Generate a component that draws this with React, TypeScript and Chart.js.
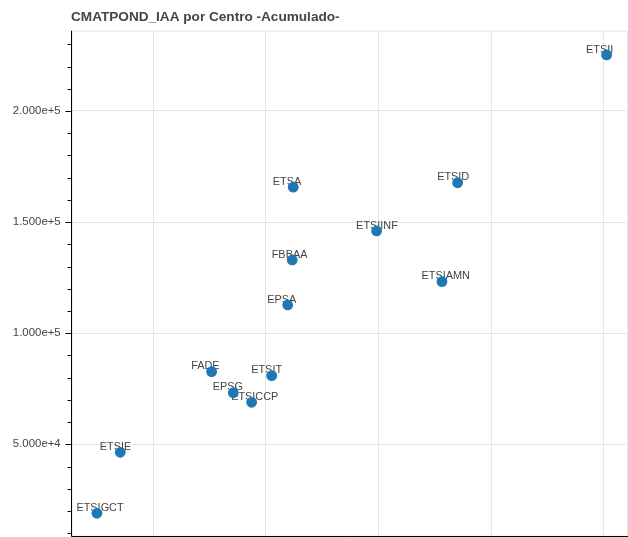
import React, { useEffect, useRef } from "react";
import { Chart, registerables } from "chart.js";

Chart.register(...registerables);

const TITLE = "CMATPOND_IAA por Centro -Acumulado-";
const CENTERS = ["ETSII", "ETSID", "ETSA", "ETSIINF", "FBBAA", "ETSIAMN", "EPSA", "FADE", "ETSIT", "EPSG", "ETSICCP", "ETSIE", "ETSIGCT"];
const X_VALUES = [5023, 3701, 2242, 2982, 2233, 3562, 2193, 1518, 2051, 1710, 1873, 707, 500];
const Y_VALUES = [225200, 167700, 165700, 146000, 132950, 123200, 112700, 82700, 80900, 73200, 68900, 46400, 18950];
const X_MAJOR_TICKS = [1000, 2000, 3000, 4000, 5000];
const X_MINOR_STEP = 200;
const Y_MAJOR_TICKS = [50000, 100000, 150000, 200000];
const Y_MINOR_STEP = 10000;
const X_MIN = 276;
const X_MAX = 5213;
const Y_MIN = 8865;
const Y_MAX = 236115;

const FONT = '"Liberation Sans", Helvetica, Arial, sans-serif';

function fmtSci(v: number): string {
  const e = Math.floor(Math.log10(Math.abs(v)));
  const m = v / Math.pow(10, e);
  return m.toFixed(3) + "e+" + e;
}

export default function App() {
  const ref = useRef<HTMLCanvasElement | null>(null);

  useEffect(() => {
    if (!ref.current) return;
    const decor = {
      id: "decor",
      beforeDatasetsDraw(chart: any) {
        const { ctx, chartArea } = chart;
        const { left, top, right, bottom } = chartArea;
        ctx.save();
        ctx.strokeStyle = "#e5e5e5";
        ctx.lineWidth = 1;
        ctx.strokeRect(left + 0.5, top + 0.5, right - left - 1, bottom - top);
        const xs = chart.scales.x;
        const ys = chart.scales.y;
        ctx.fillStyle = "#444444";
        ctx.font = `10.9px ${FONT}`;
        ctx.textAlign = "left";
        ctx.textBaseline = "bottom";
        CENTERS.forEach((name, i) => {
          const px = xs.getPixelForValue(X_VALUES[i]);
          const py = ys.getPixelForValue(Y_VALUES[i]);
          ctx.fillText(name, px - 20.5, py);
        });
        ctx.restore();
      },
      afterDraw(chart: any) {
        const { ctx, chartArea } = chart;
        const { left, top, right, bottom } = chartArea;
        const xs = chart.scales.x;
        const ys = chart.scales.y;
        ctx.save();
        ctx.strokeStyle = "#000";
        ctx.lineWidth = 1;
        ctx.beginPath();
        const ax = Math.round(left) - 0.5;
        const ay = Math.round(bottom) + 0.5;
        ctx.moveTo(ax, top);
        ctx.lineTo(ax, ay);
        ctx.moveTo(ax, ay);
        ctx.lineTo(right, ay);
        for (let v = Math.ceil(Y_MIN / Y_MINOR_STEP) * Y_MINOR_STEP; v <= Y_MAX; v += Y_MINOR_STEP) {
          const py = Math.round(ys.getPixelForValue(v)) + 0.5;
          const len = Y_MAJOR_TICKS.includes(v) ? 6 : 4;
          ctx.moveTo(ax - len, py);
          ctx.lineTo(ax, py);
        }
        for (let v = Math.ceil(X_MIN / X_MINOR_STEP) * X_MINOR_STEP; v <= X_MAX; v += X_MINOR_STEP) {
          const px = Math.round(xs.getPixelForValue(v)) + 0.5;
          const len = X_MAJOR_TICKS.includes(v) ? 6 : 4;
          ctx.moveTo(px, ay);
          ctx.lineTo(px, ay + len);
        }
        ctx.stroke();
        ctx.fillStyle = "#444444";
        ctx.font = `bold 13.6px ${FONT}`;
        ctx.textAlign = "left";
        ctx.textBaseline = "alphabetic";
        ctx.fillText(TITLE, 71, 20.7);
        ctx.restore();
      },
    };

    const chart = new Chart(ref.current, {
      type: "scatter",
      data: {
        datasets: [
          {
            data: X_VALUES.map((x, i) => ({ x, y: Y_VALUES[i] })),
            backgroundColor: "#1f77b4",
            borderColor: "#1f77b4",
            borderWidth: 0,
            pointRadius: 5.4,
          },
        ],
      },
      options: {
        responsive: false,
        animation: false,
        layout: { autoPadding: false, padding: { top: 30.7, left: 0, right: 0, bottom: 0 } },
        plugins: { legend: { display: false }, tooltip: { enabled: false }, title: { display: false } },
        scales: {
          x: {
            type: "linear",
            min: X_MIN,
            max: X_MAX,
            afterBuildTicks: (s: any) => {
              s.ticks = X_MAJOR_TICKS.map((v) => ({ value: v }));
            },
            afterFit: (s: any) => {
              s.height = 1.3;
              s.paddingLeft = 0;
              s.paddingRight = 0;
            },
            ticks: { display: false },
            grid: { color: "#e5e5e5", drawTicks: false, lineWidth: 1 },
            border: { display: false },
          },
          y: {
            type: "linear",
            min: Y_MIN,
            max: Y_MAX,
            afterBuildTicks: (s: any) => {
              s.ticks = Y_MAJOR_TICKS.map((v) => ({ value: v }));
            },
            afterFit: (s: any) => {
              s.width = 71.7;
              s.paddingTop = 0;
              s.paddingBottom = 0;
            },
            ticks: {
              padding: 11,
              color: "#444444",
              font: { family: FONT, size: 11.4 },
              callback: (v: any) => fmtSci(Number(v)),
            },
            grid: { color: "#e5e5e5", drawTicks: false, lineWidth: 1 },
            border: { display: false },
          },
        },
      },
      plugins: [decor],
    });
    return () => chart.destroy();
  }, []);

  return (
    <div style={{ position: "fixed", left: 0, top: 0, width: 628, height: 537, background: "#fff", overflow: "hidden" }}>
      <canvas ref={ref} width={628} height={537} style={{ width: 628, height: 537, display: "block" }} />
    </div>
  );
}
